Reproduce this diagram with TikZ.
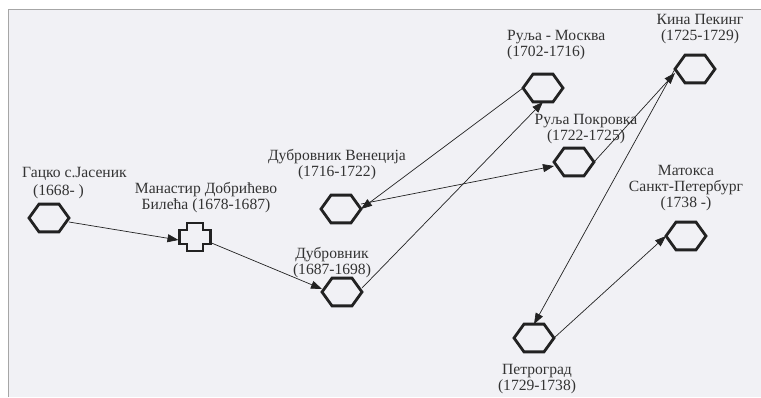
\documentclass[tikz,border=0pt]{standalone}
\usepackage{fontspec}
\setmainfont{Liberation Serif}
\usetikzlibrary{shapes.geometric,arrows.meta,calc}
\definecolor{paper}{HTML}{F1F1F5}
\definecolor{ink}{HTML}{222222}
\definecolor{txt}{HTML}{333333}
\tikzset{
  hex/.style={regular polygon, regular polygon sides=6, minimum size=40pt, inner sep=0pt, outer sep=0pt,
    yscale=0.8, draw=ink, line width=2.8pt},
  crossbox/.style={minimum width=33pt, minimum height=30pt, inner sep=0pt, outer sep=0pt},
  lbl/.style={text=txt, font=\fontsize{15.6}{16}\selectfont, align=center, inner sep=0pt},
  link/.style={draw=ink, line width=0.7pt, -{Triangle[length=11pt,width=8pt]}},
}
\begin{document}
\begin{tikzpicture}[x=1pt,y=-1pt]
\useasboundingbox (0,0) rectangle (761,397);
\fill[white] (0,0) rectangle (761,397);
\fill[paper] (8,9) rectangle (761,397);
\draw[gray!70, line width=0.8pt] (8,397) -- (8,9) -- (761,9);
% nodes
\node[hex] (gacko) at (49,218) {};
\node[crossbox] (cross) at (195,237) {};
\draw[ink, line width=2.8pt] ($(cross.center)+(-8,-14)$) -- ($(cross.center)+(8,-14)$) -- ($(cross.center)+(8,-7)$)
  -- ($(cross.center)+(15.5,-7)$) -- ($(cross.center)+(15.5,7)$) -- ($(cross.center)+(8,7)$)
  -- ($(cross.center)+(8,14)$) -- ($(cross.center)+(-8,14)$) -- ($(cross.center)+(-8,7)$)
  -- ($(cross.center)+(-15.5,7)$) -- ($(cross.center)+(-15.5,-7)$) -- ($(cross.center)+(-8,-7)$) -- cycle;
\node[hex] (dub) at (342,292) {};
\node[hex] (ven) at (341,209) {};
\node[hex] (mos) at (543,88) {};
\node[hex] (pok) at (574,162) {};
\node[hex] (kina) at (695,69) {};
\node[hex] (mat) at (686,236) {};
\node[hex] (pet) at (534,338) {};
% labels
\node[lbl, anchor=west, align=left] (gackoL) at (22,183) {Гацко с.Јасеник\\[2pt]\hspace{11pt}(1668- )};
\node[lbl] (crossL) at (206,197.5) {Манастир Добрићево\\Билећа (1678-1687)};
\node[lbl] (dubL) at (332,263) {Дубровник\\(1687-1698)};
\node[lbl] (venL) at (337,164.5) {Дубровник Венеција\\(1716-1722)};
\node[lbl, anchor=west, align=left] (mosL) at (507,45.5) {Руља - Москва\\(1702-1716)};
\node[lbl] (pokL) at (586,129.5) {Руља Покровка\\(1722-1725)};
\node[lbl] (kinaL) at (700,29.5) {Кина Пекинг\\(1725-1729)};
\node[lbl] (matL) at (686,188.5) {Матокса\\Санкт-Петербург\\(1738 -)};
\node[lbl] (petL) at (537,379) {Петроград\\(1729-1738)};
% connectors
\draw[link] ([yshift=-4pt]gacko.east) -- ([yshift=-3pt]cross.west);
\draw[link] ([yshift=-6pt]cross.east) -- ([yshift=3pt]dub.west);
\draw[link] ([yshift=4pt]dub.east) -- (mos.south);
\draw[link] (mos.west) -- (ven.corner 6);
\draw[link] ([yshift=5pt]ven.east) -- ([yshift=-4pt]pok.west);
\draw[link] (pok.corner 6) -- ([yshift=-4pt]kina.west);
\draw[link] (kina.corner 3) -- (pet.north);
\draw[link] (pet.corner 6) -- (mat.corner 3);
\end{tikzpicture}
\end{document}
